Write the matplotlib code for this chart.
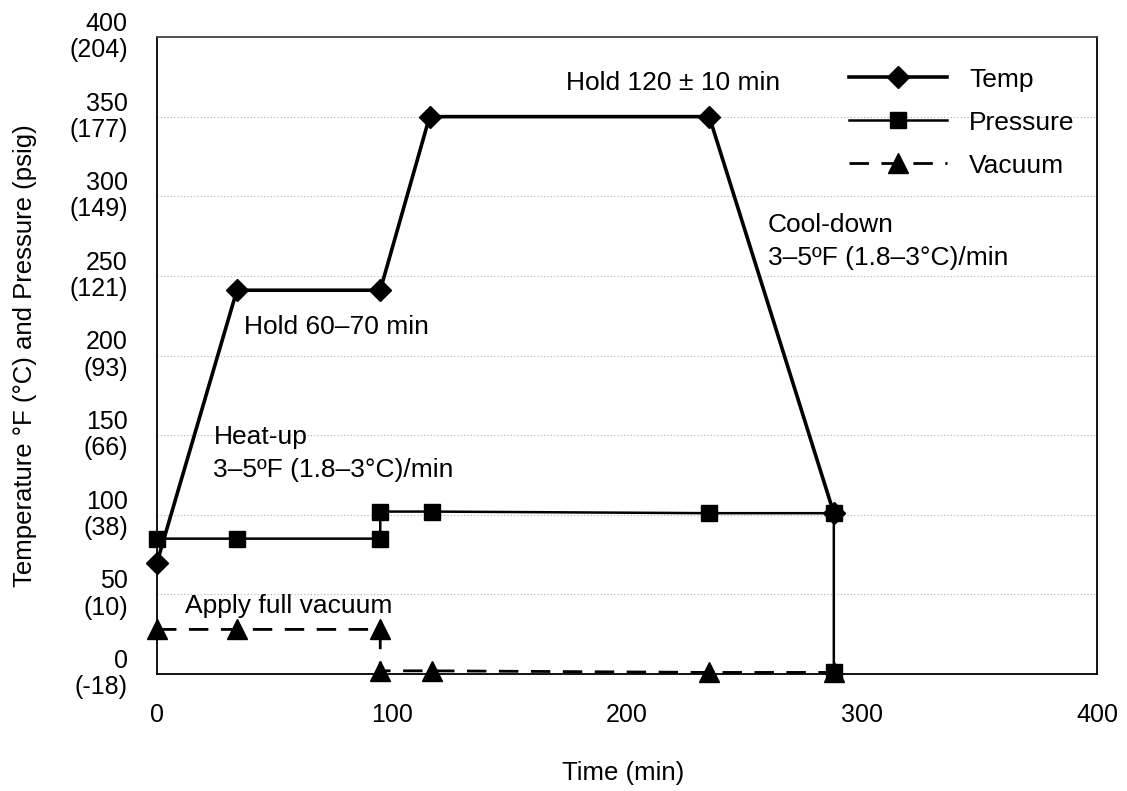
import matplotlib.pyplot as plt

plt.rcParams['font.family'] = ['Liberation Sans', 'DejaVu Sans']

# cure cycle
temp_t = [0, 34, 95, 116, 235, 288]
temp_v = [70, 241, 241, 350, 350, 101]

press_t = [0, 34, 95, 95, 117, 235, 288, 288]
press_v = [85, 85, 85, 102, 102, 101, 101, 1]

vac_t = [0, 34, 95, 95, 117, 235, 288]
vac_v = [28, 28, 28, 2, 2, 1, 1]

yticks = [0, 50, 100, 150, 200, 250, 300, 350, 400]
ytick_labels = ['0\n(-18)', '50\n(10)', '100\n(38)', '150\n(66)', '200\n(93)',
                '250\n(121)', '300\n(149)', '350\n(177)', '400\n(204)']
xticks = [0, 100, 200, 300, 400]

fig = plt.figure(figsize=(11.27, 7.91), dpi=100)
ax = fig.add_axes([0.1393, 0.1479, 0.8341, 0.8053])

ax.plot(temp_t, temp_v, color='black', lw=2.6, marker='D', ms=11, label='Temp',
        zorder=3, clip_on=False)
ax.plot(press_t, press_v, color='black', lw=1.8, marker='s', ms=12, label='Pressure',
        zorder=3, clip_on=False)
ax.plot(vac_t, vac_v, color='black', lw=2.0, ls=(0, (7, 4.5)), marker='^', ms=14,
        label='Vacuum', zorder=3, clip_on=False)

ax.set_xlim(0, 400)
ax.set_ylim(0, 400)
ax.set_xticks(xticks)
ax.set_yticks(yticks)
ax.set_yticklabels(ytick_labels, ha='right', va='center', multialignment='right',
                   linespacing=1.12)
ax.tick_params(axis='both', length=0, labelsize=18)
ax.tick_params(axis='y', pad=21)
ax.tick_params(axis='x', pad=21)
ax.grid(axis='y', color='#b0b0b0', ls=(0, (1, 2)), lw=0.8)
ax.set_axisbelow(True)
for s in ax.spines.values():
    s.set_linewidth(1.3)
ax.spines['top'].set_color('#444444')

ax.set_xlabel('Time (min)', fontsize=18.5)
ax.set_ylabel('Temperature °F (°C) and Pressure (psig)', fontsize=18.5)
ax.xaxis.set_label_coords(0.496, -0.136)
ax.yaxis.set_label_coords(-0.128, 0.5)

fs = 19
ax.text(174, 371, 'Hold 120 ± 10 min', fontsize=fs, va='center')
ax.text(37, 218, 'Hold 60–70 min', fontsize=fs, va='center')
ax.text(24, 149, 'Heat-up', fontsize=fs, va='center')
ax.text(24, 128, '3–5ºF (1.8–3°C)/min', fontsize=fs, va='center')
ax.text(12, 43, 'Apply full vacuum', fontsize=fs, va='center')
ax.text(260, 282, 'Cool-down', fontsize=fs, va='center')
ax.text(260, 261, '3–5ºF (1.8–3°C)/min', fontsize=fs, va='center')

ax.legend(loc='upper right', bbox_to_anchor=(1.0, 0.987), frameon=False, fontsize=fs,
          handlelength=3.7, handletextpad=0.85, labelspacing=0.72, borderaxespad=0.45)

fig.savefig('out.png', dpi=100)
